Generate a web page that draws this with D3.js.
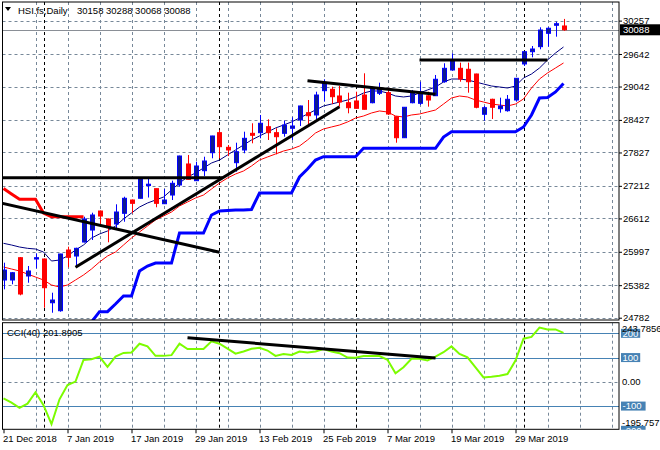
<!DOCTYPE html>
<html><head><meta charset="utf-8">
<script src="https://cdn.jsdelivr.net/npm/d3@7/dist/d3.min.js"></script>
<style>
body{margin:0;background:#fff}
svg{display:block}
text{font-family:'Liberation Sans',Arial,sans-serif;font-size:9.5px;fill:#000}
</style>
</head><body>
<svg id="c" width="660" height="450"></svg>
<script>
// ---------- DATA ----------
const symbol = "HSI.fs,Daily";
const dates = ["2018-12-21","2018-12-24","2018-12-27","2018-12-28","2018-12-31","2019-01-02","2019-01-03","2019-01-04","2019-01-07","2019-01-08",
"2019-01-09","2019-01-10","2019-01-11","2019-01-14","2019-01-15","2019-01-16","2019-01-17","2019-01-18","2019-01-21","2019-01-22",
"2019-01-23","2019-01-24","2019-01-25","2019-01-28","2019-01-29","2019-01-30","2019-01-31","2019-02-01","2019-02-04","2019-02-08",
"2019-02-11","2019-02-12","2019-02-13","2019-02-14","2019-02-15","2019-02-18","2019-02-19","2019-02-20","2019-02-21","2019-02-22",
"2019-02-25","2019-02-26","2019-02-27","2019-02-28","2019-03-01","2019-03-04","2019-03-05","2019-03-06","2019-03-07","2019-03-08",
"2019-03-11","2019-03-12","2019-03-13","2019-03-14","2019-03-15","2019-03-18","2019-03-19","2019-03-20","2019-03-21","2019-03-22",
"2019-03-25","2019-03-26","2019-03-27","2019-03-28","2019-03-29","2019-04-01","2019-04-02","2019-04-03","2019-04-04","2019-04-08","2019-04-09"];
const open  = [25477,25477,25888,25551,25864,25864,25058,24911,26030,25919,26177,26398,26748,26601,26509,26706,26951,26983,27218,27160,26883,27043,27228,27615,27307,27491,27823,28192,27922,27639,27873,28180,28192,28302,28192,28180,28273,28426,28560,28518,28966,28991,28868,28744,28776,28886,28744,28918,28929,28486,28099,28744,28733,28872,28873,29131,29347,29378,29360,29273,28531,28807,28634,28597,28794,29458,29684,29777,30023,30171,30158];
const high  = [25796,25624,25901,25735,25969,25873,25243,25960,26091,26072,26643,26717,26758,26610,26872,27012,26960,27375,27360,27163,27154,27307,27768,27781,27657,27749,28135,28241,27965,28007,28210,28365,28518,28438,28273,28416,28475,28690,28794,28947,29176,29039,29052,28929,28947,29286,29039,29113,29020,28490,28665,28979,29131,28947,29255,29471,29655,29482,29482,29280,28684,28818,28837,28886,29200,29688,29789,30134,30134,30237,30288];
const low   = [25305,25398,25195,25427,25692,24966,24874,24893,25711,25722,26170,26214,26490,26172,26398,26551,26706,26980,26997,26817,26877,26951,27196,27330,27302,27394,27720,27720,27760,27473,27812,27996,28088,28057,27793,28118,28057,28315,28315,28438,28763,28720,28671,28549,28638,28620,28733,28886,28518,28007,28094,28733,28702,28671,28868,29113,29334,29131,28929,28641,28413,28444,28560,28579,28763,29421,29581,29729,29777,29961,30068];
const close = [25661,25611,25219,25643,25888,25335,25108,25956,25895,26061,26601,26675,26656,26441,26730,26983,26890,27362,27242,26890,26951,27259,27762,27333,27578,27670,28131,27934,27873,27841,28088,28144,28365,28192,28118,28333,28315,28684,28505,28886,29113,28855,28757,28652,28641,28623,29010,29010,28536,28099,28660,28947,28947,28794,29176,29378,29531,29181,29131,28660,28652,28660,28684,28807,29194,29684,29734,30084,30116,30200,30088];
// fast moving average (navy) and slow moving average (red)
const maFast = [26153,26122,26085,26061,26048,25993,25827,25845,25919,26030,26122,26251,26325,26380,26472,26601,26712,26822,26896,26951,27006,27135,27264,27375,27449,27541,27633,27688,27781,27873,27965,28057,28131,28204,28278,28333,28389,28462,28536,28610,28684,28720,28757,28794,28850,28923,28960,28960,28923,28868,28850,28868,28923,28979,29034,29126,29181,29181,29163,29126,29089,29052,29034,29015,29052,29200,29273,29384,29531,29660,29771];
const maSlow = [25716,25680,25643,25587,25532,25477,25385,25348,25385,25477,25569,25680,25809,25919,25993,26122,26251,26362,26472,26583,26656,26730,26841,26914,26988,27043,27154,27264,27357,27430,27486,27578,27688,27744,27799,27854,27891,27946,28057,28186,28260,28297,28333,28389,28462,28499,28555,28592,28573,28499,28481,28518,28536,28573,28610,28720,28831,28868,28850,28794,28757,28720,28702,28684,28720,28813,29015,29181,29292,29384,29476];
// trailing stop: above price (red) while falling, below price (blue) while rising
const stopAbove = [27163,27062,26964,26964,26964,26712,26643,26643,26643,26643,26643,null,null,null,null,null,null,null,null,null,null,null,null,null,null,null,null,null,null,null,null,null,null,null,null,null,null,null,null,null,null,null,null,null,null,null,null,null,null,null,null,null,null,null,null,null,null,null,null,null,null,null,null,null,null,null,null,null,null,null,null];
const stopBelow = [null,null,null,null,null,null,null,null,null,null,null,24703,24893,24893,25034,25182,25182,25643,25735,25790,25790,25790,26343,26343,26343,26343,26675,26748,26758,26767,26767,26776,27080,27080,27080,27080,27080,27375,27523,27688,27749,27749,27749,27749,27749,27904,27904,27904,27904,27904,27904,27904,27904,27904,27904,28112,28210,28210,28210,28210,28210,28210,28210,28210,28210,28297,28518,28831,28840,28942,29098];
const cciPeriod = 40;
const cci = [-68,-86,-107,-90,-43,-96,-174,-72,-13,1,90,93,104,62,104,119,121,157,146,107,107,110,157,135,135,135,167,157,137,116,125,136,140,129,107,115,111,125,121,125,135,125,118,100,99,106,106,106,91,35,60,95,95,88,104,122,146,115,101,60,18,21,25,32,88,178,185,224,216,216,201.8905];
const priceTicks = [30257,29642,29042,28427,27827,27212,26612,25997,25382,24782];
const cciLevels = [200,100,-100,-200];
const cciMax = 243.7856, cciMin = -195.757;
// trend lines as [barIndex, value] pairs
const priceTrendlines = [
  [[-1,26920],[27,25987]],
  [[-1,27360],[27.4,27360]],
  [[9,25712],[42,28671]],
  [[38,29150],[54,28899]],
  [[52,29531],[68,29531]]
];
const cciTrendlines = [[[23,182],[54,98]]];

// ---------- LAYOUT ----------
const svg = d3.select("#c");
const L = 2.5, R = 619;
const mainTop = 2, mainBot = 320, cciTop = 322.7, cciBot = 429.3;
const last = dates.length - 1;
const parse = d3.timeParse("%Y-%m-%d");
const dts = dates.map(parse);
const fmt = d3.timeFormat("%-d %b %Y");

const x = d3.scaleLinear().domain([-0.125, 76.9375]).range([L, R]);
const y = d3.scaleLinear().domain([24740, 30600]).range([mainBot, mainTop]);
const yc = d3.scaleLinear().domain([cciMin, cciMax]).range([cciBot, cciTop]);

const defs = svg.append("defs");
defs.append("clipPath").attr("id","clipMain").append("rect")
  .attr("x",L).attr("y",mainTop).attr("width",R-L).attr("height",mainBot-mainTop);
defs.append("clipPath").attr("id","clipCci").append("rect")
  .attr("x",L).attr("y",cciTop).attr("width",R-L).attr("height",cciBot-cciTop);

const gridColor = "#778899";
const idx = d3.range(dates.length);
const gridIdx = d3.range(4, 77, 4);
const sepIdx = idx.filter(i => i > 0 && dts[i].getMonth() !== dts[i-1].getMonth());
const labelIdx = idx.filter(i => i % 8 === 0);

function panelGrid(g, top, bot) {
  g.selectAll(".vg").data(gridIdx).join("line")
    .attr("x1", d => Math.round(x(d))+0.5).attr("x2", d => Math.round(x(d))+0.5)
    .attr("y1", top).attr("y2", bot)
    .attr("stroke", gridColor).attr("stroke-dasharray","3,3");
  g.selectAll(".sep").data(sepIdx).join("line")
    .attr("x1", d => Math.round(x(d))+0.5).attr("x2", d => Math.round(x(d))+0.5)
    .attr("y1", top).attr("y2", bot)
    .attr("stroke", "#000").attr("stroke-dasharray","3,3");
}

// ---------- MAIN PANEL ----------
const gm = svg.append("g").attr("clip-path","url(#clipMain)");
gm.selectAll(".hg").data(priceTicks).join("line")
  .attr("x1", L).attr("x2", R)
  .attr("y1", d => Math.round(y(d))+0.5).attr("y2", d => Math.round(y(d))+0.5)
  .attr("stroke", gridColor).attr("stroke-dasharray","3,3");
panelGrid(gm.append("g"), mainTop, mainBot);

// bid line
gm.append("line").attr("x1",L).attr("x2",R)
  .attr("y1", Math.round(y(close[last]))+0.5).attr("y2", Math.round(y(close[last]))+0.5)
  .attr("stroke","#8a8f96");

// moving averages
const lineGen = (ys) => d3.line().defined(d => d != null).x((d,i)=>x(i)).y(d=>ys(d));
gm.append("path").datum(maSlow).attr("d", lineGen(y)).attr("fill","none").attr("stroke","#ff0000").attr("stroke-width",1);
gm.append("path").datum(maFast).attr("d", lineGen(y)).attr("fill","none").attr("stroke","#000080").attr("stroke-width",1);
// trailing stops
gm.append("path").datum(stopAbove).attr("d", lineGen(y)).attr("fill","none").attr("stroke","#ff0000").attr("stroke-width",3);
gm.append("path").datum(stopBelow).attr("d", lineGen(y)).attr("fill","none").attr("stroke","#0000ff").attr("stroke-width",3);

// candles
const cg = gm.append("g");
idx.forEach(i => {
  const up = close[i] >= open[i];
  const cx = Math.round(x(i)) + 0.5;
  const col = up ? "#0000ff" : "#ff0000";
  cg.append("line").attr("x1",cx).attr("x2",cx).attr("y1",y(high[i])).attr("y2",y(low[i]))
    .attr("stroke",col).attr("stroke-width",1);
  const top = y(Math.max(open[i],close[i])), bot = y(Math.min(open[i],close[i]));
  cg.append("rect").attr("x",cx-2).attr("width",4)
    .attr("y",top).attr("height",Math.max(1,bot-top))
    .attr("fill", up ? "#0f1b8e" : "#ff0000").attr("stroke",col).attr("stroke-width",1);
});

// trend lines
gm.selectAll(".tl").data(priceTrendlines).join("line")
  .attr("x1",d=>x(d[0][0])).attr("y1",d=>y(d[0][1]))
  .attr("x2",d=>x(d[1][0])).attr("y2",d=>y(d[1][1]))
  .attr("stroke","#000").attr("stroke-width",3);

// ---------- CCI PANEL ----------
const gc = svg.append("g").attr("clip-path","url(#clipCci)");
panelGrid(gc.append("g"), cciTop, cciBot);
gc.append("line").attr("x1",L).attr("x2",R)
  .attr("y1",Math.round(yc(0))+0.5).attr("y2",Math.round(yc(0))+0.5)
  .attr("stroke",gridColor).attr("stroke-dasharray","3,3");
gc.selectAll(".lvl").data(cciLevels).join("line")
  .attr("x1",L).attr("x2",R)
  .attr("y1",d=>Math.round(yc(d))+0.5).attr("y2",d=>Math.round(yc(d))+0.5)
  .attr("stroke","#4682b4").attr("stroke-width",1);
gc.append("path").datum(cci).attr("d", lineGen(yc)).attr("fill","none")
  .attr("stroke","#7cfc00").attr("stroke-width",2);
gc.selectAll(".ctl").data(cciTrendlines).join("line")
  .attr("x1",d=>x(d[0][0])).attr("y1",d=>yc(d[0][1]))
  .attr("x2",d=>x(d[1][0])).attr("y2",d=>yc(d[1][1]))
  .attr("stroke","#000").attr("stroke-width",3);

// ---------- BORDERS ----------
svg.append("rect").attr("x",L).attr("y",mainTop).attr("width",R-L).attr("height",mainBot-mainTop)
  .attr("fill","none").attr("stroke","#000");
svg.append("rect").attr("x",L).attr("y",cciTop).attr("width",R-L).attr("height",cciBot-cciTop)
  .attr("fill","none").attr("stroke","#000");

// ---------- AXES ----------
const pa = svg.append("g").attr("transform",`translate(${R},0)`)
  .call(d3.axisRight(y).tickValues(priceTicks).tickSize(3).tickPadding(1).tickFormat(d3.format("d")));
pa.select(".domain").remove();
pa.selectAll("text").style("font-family","'Liberation Sans',Arial,sans-serif").style("font-size","9.5px").attr("fill","#000");
pa.selectAll("line").attr("stroke","#000");

// current price box
const by = y(close[last]);
svg.append("rect").attr("x",R+1).attr("y",by-5.5).attr("width",40).attr("height",11).attr("fill","#000");
svg.append("text").attr("x",R+4).attr("y",by).attr("dy","0.34em").text(close[last]).attr("fill","#fff").style("fill","#fff");

// date axis
const da = svg.append("g").attr("transform",`translate(0,${cciBot})`)
  .call(d3.axisBottom(x).tickValues(labelIdx).tickSize(4).tickPadding(2).tickFormat(i => fmt(dts[i])));
da.select(".domain").remove();
da.selectAll("text").attr("text-anchor","start").attr("dx","-1")
  .style("font-family","'Liberation Sans',Arial,sans-serif").style("font-size","9.5px").attr("fill","#000");
da.selectAll("line").attr("stroke","#000");

// CCI scale labels
const cl = svg.append("g");
cl.selectAll(".lb").data(cciLevels).join("g").each(function(d){
  const g = d3.select(this);
  const t = String(d);
  const w = t.length * 5.4 + 3;
  const cy = yc(d);
  g.append("rect").attr("x",R+2).attr("y",cy-4.5).attr("width",w).attr("height",9).attr("fill","#4682b4");
  g.append("text").attr("x",R+3.5).attr("y",cy).attr("dy","0.34em").text(t).style("fill","#fff");
});
cl.append("text").attr("x",R+3).attr("y",yc(0)).attr("dy","0.34em").text("0.00");
cl.append("text").attr("x",R+3).attr("y",yc(cciMax)+6).attr("dy","0.34em").text(cciMax.toFixed(4));
cl.append("text").attr("x",R+3).attr("y",yc(cciMin)-7).attr("dy","0.34em").text(cciMin.toFixed(3));
// cover anything below the chart bottom on the right side except labels
svg.append("rect").attr("x",R+1).attr("y",cciBot+0.5).attr("width",41).attr("height",20).attr("fill","#fff");

// header
svg.append("path").attr("d","M5,7 L11,7 L8,11 Z").attr("fill","#000");
svg.append("text").attr("x",18).attr("y",14).text(symbol);
svg.append("text").attr("x",77).attr("y",14).text([open[last],high[last],low[last],close[last]].join(" "));
svg.append("text").attr("x",7).attr("y",336).text(`CCI(${cciPeriod}) ${cci[last].toFixed(4)}`);
</script>
</body></html>
